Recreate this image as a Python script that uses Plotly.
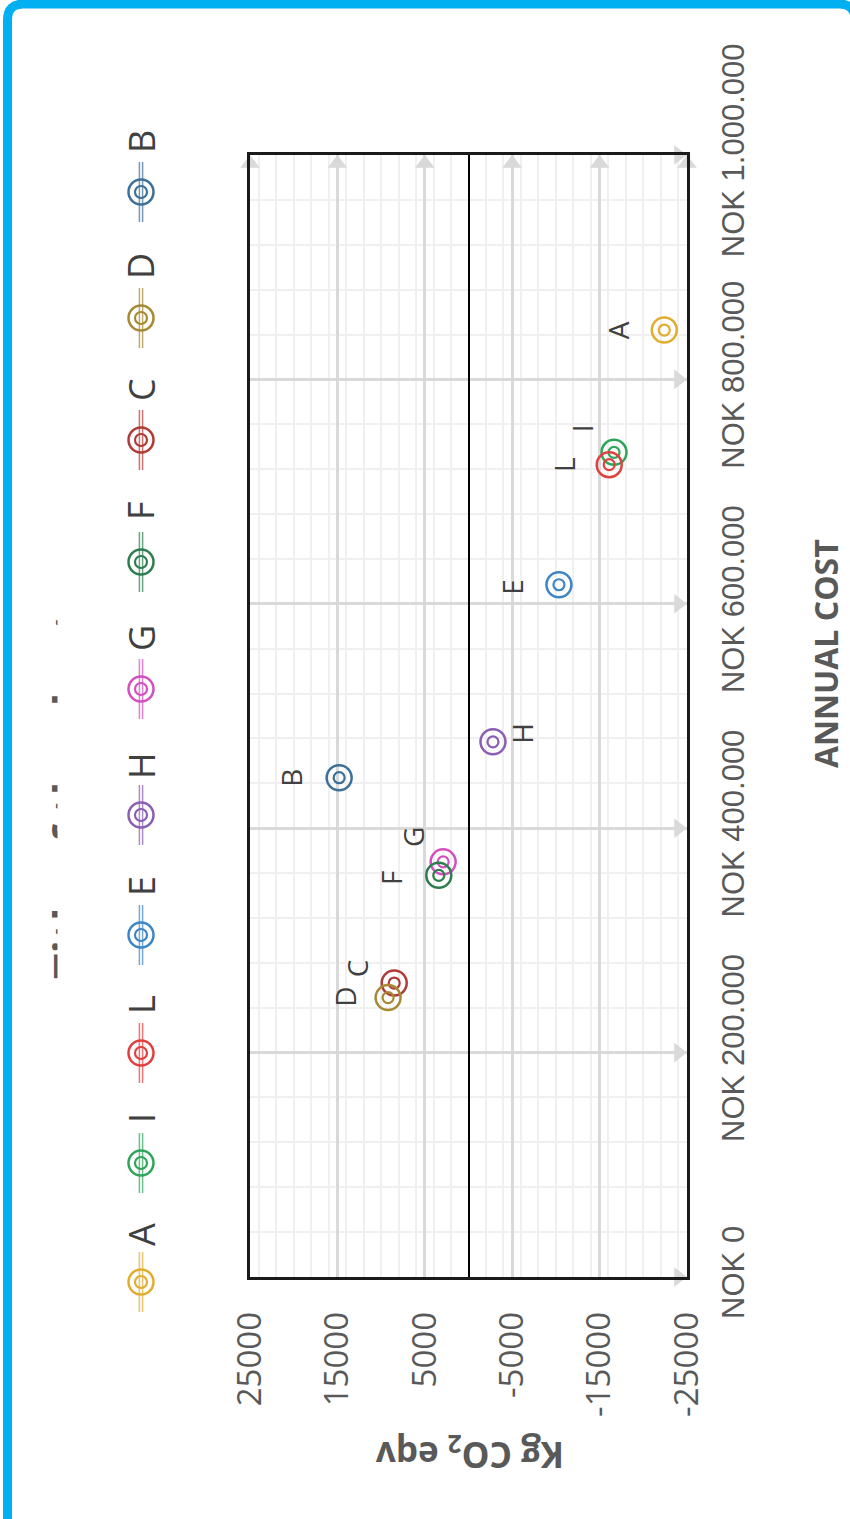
import plotly.graph_objects as go

# ---- data -------------------------------------------------------------
series = ["A", "I", "L", "E", "H", "G", "F", "C", "D", "B"]
annual_cost = [844000, 735000, 724000, 617000, 477000, 370000, 358000, 262000, 249000, 445000]
co2_eqv = [-22400, -16650, -16100, -10350, -2800, 2900, 3400, 8500, 9200, 14800]

co2_ticks = [25000, 15000, 5000, -5000, -15000, -25000]
cost_ticks = [0, 200000, 400000, 600000, 800000, 1000000]
cost_ticktext = ["NOK 0", "NOK 200.000", "NOK 400.000", "NOK 600.000",
                 "NOK 800.000", "NOK 1.000.000"]

# ---- styling ----------------------------------------------------------
colors = {
    "A": "#E1AD2F", "I": "#2FA55A", "L": "#E0403F", "E": "#3D85C6",
    "H": "#8B5DB3", "G": "#D44FBF", "F": "#2E7D4F", "C": "#B23A36",
    "D": "#A68A33", "B": "#3D6F98",
}
# pixel offsets of the point labels (dx, dy on screen)
label_offset = {
    "A": (-46, 0), "I": (-32, -24), "L": (-46, 0), "E": (-47, 2),
    "H": (29, -9), "G": (-30, -25), "F": (-47, 3), "C": (-37, -15),
    "D": (-43, -1), "B": (-48, 0),
}
# legend rows: screen y of the marker, screen y of the label
legend_rows = {
    "A": (1282, 1235), "I": (1163, 1118), "L": (1053, 1005), "E": (935, 886),
    "H": (815, 766), "G": (689, 638), "F": (562, 511), "C": (440, 390),
    "D": (318, 266), "B": (192, 142),
}
LEGEND_X = 141

W, H = 850, 1519
PL, PR, PT, PB = 250, 687, 155, 1277  # plot box in screen pixels
GRID = "#D9D9D9"
MINOR = "#F0F0F0"
TXT = "#595959"


def px(x):
    return (x - PL) / (PR - PL)


def py(y):
    return (PB - y) / (PB - PT)


co2_min, co2_max = min(co2_ticks), max(co2_ticks)
cost_min, cost_max = min(cost_ticks), max(cost_ticks)
co2_per_px = (co2_max - co2_min) / (PR - PL)
cost_per_px = (cost_max - cost_min) / (PB - PT)

fig = go.Figure()

# arrow heads at the ends of the major grid lines
fig.add_trace(go.Scatter(
    x=co2_ticks, y=[cost_max - 8.5 * cost_per_px] * len(co2_ticks),
    mode="markers", cliponaxis=False, hoverinfo="skip", showlegend=False,
    marker=dict(symbol="triangle-up", size=17, color=GRID),
))
fig.add_trace(go.Scatter(
    x=[co2_min + 8.5 * co2_per_px] * len(cost_ticks), y=cost_ticks,
    mode="markers", cliponaxis=False, hoverinfo="skip", showlegend=False,
    marker=dict(symbol="triangle-right", size=17, color=GRID),
))

# double-ring markers
for name, cost, co2 in zip(series, annual_cost, co2_eqv):
    c = colors[name]
    fig.add_trace(go.Scatter(
        x=[co2], y=[cost], mode="markers", name=name, showlegend=False,
        cliponaxis=False,
        marker=dict(symbol="circle-open", size=25, line=dict(width=2.5, color=c), color=c),
    ))
    fig.add_trace(go.Scatter(
        x=[co2], y=[cost], mode="markers", name=name, showlegend=False,
        cliponaxis=False, hoverinfo="skip",
        marker=dict(symbol="circle-open", size=11, line=dict(width=2.2, color=c), color=c),
    ))
    dx, dy = label_offset[name]
    fig.add_annotation(
        x=co2, y=cost, xref="x", yref="y", text=name, showarrow=False,
        textangle=-90, xshift=dx, yshift=-dy, xanchor="center", yanchor="middle",
        font=dict(family="Open Sans", size=28, color="#404040"),
    )

shapes = []
# legend: vertical line through a double ring, label above
for name in series:
    c = colors[name]
    my, ly = legend_rows[name]
    for off in (-1.6, 1.6):
        shapes.append(dict(
            type="line", xref="paper", yref="paper",
            xsizemode="pixel", ysizemode="pixel",
            xanchor=px(LEGEND_X), yanchor=py(my),
            x0=off, x1=off, y0=-30, y1=30,
            line=dict(color=c, width=1.5), opacity=0.7,
        ))
    for r, w in ((12.5, 2.5), (6, 2.2)):
        shapes.append(dict(
            type="circle", xref="paper", yref="paper",
            xsizemode="pixel", ysizemode="pixel",
            xanchor=px(LEGEND_X), yanchor=py(my),
            x0=-r, x1=r, y0=-r, y1=r,
            line=dict(color=c, width=w), fillcolor="rgba(0,0,0,0)",
        ))
    fig.add_annotation(
        x=px(LEGEND_X), y=py(ly), xref="paper", yref="paper",
        xanchor="center", yanchor="middle",
        text=name, showarrow=False, textangle=-90,
        font=dict(family="Open Sans", size=36, color="#404040"),
    )

# outer frame
fx0, fy0, fx1, fy1, rr = 7.5, 4, 855, 1540, 16
frame_path = (
    f"M {px(fx0)},{py(fy1)} L {px(fx0)},{py(fy0 + rr)} "
    f"Q {px(fx0)},{py(fy0)} {px(fx0 + rr)},{py(fy0)} "
    f"L {px(fx1 - rr)},{py(fy0)} Q {px(fx1)},{py(fy0)} {px(fx1)},{py(fy0 + rr)} "
    f"L {px(fx1)},{py(fy1)}"
)
shapes.append(dict(type="path", xref="paper", yref="paper", path=frame_path,
                   line=dict(color="#00B0F0", width=9)))

# chart title, mostly hidden behind the legend panel
fig.add_annotation(
    x=px(37), y=py(796), xref="paper", yref="paper", xanchor="left", yanchor="middle",
    text="<b>Title of the chart</b>", showarrow=False, textangle=-90,
    font=dict(family="Open Sans", size=44, color=TXT),
)
fig.add_annotation(
    x=px(57), y=py(796), xref="paper", yref="paper", xanchor="left", yanchor="middle",
    text="&nbsp;", showarrow=False, width=60, height=520, bgcolor="white",
)

# axis titles
fig.add_annotation(
    x=px(825), y=py(654), xref="paper", yref="paper", xanchor="center", yanchor="middle",
    text="<b>ANNUAL COST</b>", showarrow=False, textangle=-90,
    font=dict(family="Open Sans", size=32, color=TXT),
)
fig.add_annotation(
    x=px(470), y=py(1453), xref="paper", yref="paper", xanchor="center", yanchor="middle",
    text="<b>Kg CO<sub>2</sub> eqv</b>", showarrow=False, textangle=180,
    font=dict(family="Open Sans", size=35, color=TXT),
)

fig.update_layout(
    width=W, height=H,
    margin=dict(l=PL, r=W - PR, t=PT, b=H - PB, pad=0),
    paper_bgcolor="white", plot_bgcolor="white",
    showlegend=False,
    shapes=shapes,
    xaxis=dict(
        range=[co2_max, co2_min], tickvals=co2_ticks,
        ticktext=[str(v) for v in co2_ticks], tickangle=-90,
        ticks="", ticklabelstandoff=19,
        tickfont=dict(family="Open Sans", size=33, color=TXT),
        showgrid=True, gridcolor=GRID, gridwidth=3,
        minor=dict(dtick=2000, tick0=0, showgrid=True, gridcolor=MINOR, gridwidth=1.5),
        zeroline=True, zerolinecolor="black", zerolinewidth=1.5,
        showline=True, mirror=True, linecolor="#1a1a1a", linewidth=2.5,
    ),
    yaxis=dict(
        range=[cost_min, cost_max], tickvals=cost_ticks, ticktext=cost_ticktext,
        side="right", tickangle=-90, ticks="", ticklabelstandoff=17,
        tickfont=dict(family="Liberation Sans", size=31, color=TXT),
        showgrid=True, gridcolor=GRID, gridwidth=3,
        minor=dict(dtick=40000, tick0=0, showgrid=True, gridcolor=MINOR, gridwidth=1.5),
        zeroline=False,
        showline=True, mirror=True, linecolor="#1a1a1a", linewidth=2.5,
    ),
)

fig.write_html("out.html")
